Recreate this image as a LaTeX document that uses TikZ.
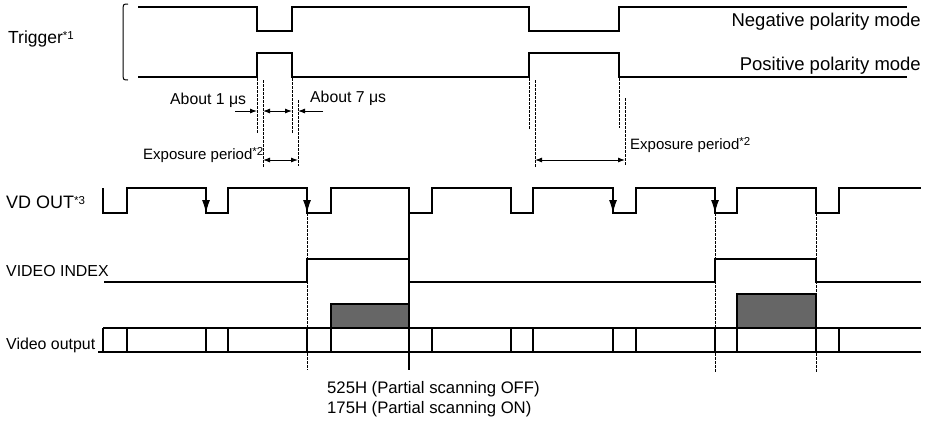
\documentclass[tikz,border=0pt]{standalone}
\usepackage{fontspec}
\setmainfont{Liberation Sans}
\usetikzlibrary{arrows.meta}
\definecolor{boxgray}{HTML}{666666}
\newcommand\supnote[1]{\raisebox{4pt}{\fontsize{11.5pt}{11.5pt}\selectfont #1}}
\begin{document}
\begin{tikzpicture}[x=1pt,y=-1pt,
  sig/.style={line width=2.4pt, line join=miter},
  divider/.style={line width=1.5pt},
  guide/.style={line width=0.8pt, dash pattern=on 2.5pt off 1.5pt},
  dim/.style={line width=0.9pt, -{Latex[length=7pt,width=5pt]}},
  dimboth/.style={line width=0.9pt, {Latex[length=7pt,width=5pt]}-{Latex[length=7pt,width=5pt]}},
  edgearrow/.style={line width=1pt, -{Latex[length=13pt,width=8pt]}},
  lbl/.style={inner sep=0pt, font=\fontsize{#1pt}{#1pt}\selectfont},
]
\useasboundingbox (0,0) rectangle (928,421);

% Trigger bracket
\draw[line width=1pt] (128,4) .. controls (123,4) .. (123,12) -- (123,72) .. controls (123,80) .. (128,80);

% Trigger waveforms
\draw[sig] (138,7) -- (257,7) -- (257,31) -- (292,31) -- (292,7) -- (529,7) -- (529,31) -- (619,31) -- (619,7) -- (907,7);
\draw[sig] (138,77) -- (257,77) -- (257,53) -- (292,53) -- (292,77) -- (529,77) -- (529,53) -- (619,53) -- (619,77) -- (907,77);

\node[lbl=17.5, anchor=base west] (trig) at (8,43) {Trigger\supnote{*1}};
\node[lbl=18.5, anchor=base east] (neg) at (921,26) {Negative polarity mode};
\node[lbl=18.5, anchor=base east] (pos) at (921,70) {Positive polarity mode};

% guides
\coordinate (g1a) at (257,78);  \coordinate (g1b) at (257,133);
\coordinate (g2a) at (263,80);  \coordinate (g2b) at (263,168);
\coordinate (g3a) at (292,78);  \coordinate (g3b) at (292,133);
\coordinate (g4a) at (298,100); \coordinate (g4b) at (298,166);
\coordinate (g5a) at (529,78);  \coordinate (g5b) at (529,130);
\coordinate (g6a) at (535,80);  \coordinate (g6b) at (535,168);
\coordinate (g7a) at (619,78);  \coordinate (g7b) at (619,128);
\coordinate (g8a) at (625,98);  \coordinate (g8b) at (625,166);
\foreach \g in {1,...,8} \draw[guide] (g\g a) -- (g\g b);

% timing arrows
\coordinate (a1s) at (235,111); \coordinate (a1e) at (257,111);
\coordinate (a2s) at (263,111); \coordinate (a2e) at (292,111);
\coordinate (a3s) at (323,111); \coordinate (a3e) at (298,111);
\draw[dim] (a1s) -- (a1e);
\draw[dimboth] (a2s) -- (a2e);
\draw[dim] (a3s) -- (a3e);
\node[lbl=15.8, anchor=base west] (ab1) at (170,104) {About 1 μs};
\node[lbl=15.8, anchor=base west] (ab7) at (310,102) {About 7 μs};

\coordinate (e1s) at (263,160); \coordinate (e1e) at (298,160);
\coordinate (e2s) at (535,160); \coordinate (e2e) at (625,160);
\draw[dimboth] (e1s) -- (e1e);
\draw[dimboth] (e2s) -- (e2e);
\node[lbl=15, anchor=base west] (exp1) at (143,159) {Exposure period\supnote{*2}};
\node[lbl=15, anchor=base west] (exp2) at (630,149) {Exposure period\supnote{*2}};

% VD OUT
\draw[sig] (103,188) -- (103,213) -- (127,213) -- (127,188) -- (206,188) -- (206,213) -- (228,213) -- (228,188)
  -- (307,188) -- (307,213) -- (331,213) -- (331,188) -- (409,188) -- (409,213) -- (432,213) -- (432,188)
  -- (511,188) -- (511,213) -- (533,213) -- (533,188) -- (613,188) -- (613,213) -- (636,213) -- (636,188)
  -- (715,188) -- (715,213) -- (737,213) -- (737,188) -- (816,188) -- (816,213) -- (839,213) -- (839,188) -- (921,188);
\foreach \x in {206,307,613,715} \draw[edgearrow] (\x,192) -- (\x,213);
\node[lbl=18, anchor=base west] (vd) at (6,208) {VD OUT\supnote{*3}};

% VIDEO INDEX
\draw[sig] (104,282) -- (307,282) -- (307,259) -- (409,259) -- (409,282) -- (715,282) -- (715,259) -- (816,259) -- (816,282) -- (921,282);
\node[lbl=15.9, anchor=base west] (vi) at (6,276) {VIDEO INDEX};

% vertical markers
\draw[guide] (307,213) -- (307,370);
\draw[line width=1.5pt] (409,213) -- (409,370);
\draw[guide] (715,213) -- (715,372);
\draw[guide] (816,213) -- (816,372);

% Video output
\filldraw[fill=boxgray, draw=black, line width=1.2pt] (331,304) rectangle (409,328);
\filldraw[fill=boxgray, draw=black, line width=1.2pt] (737,294) rectangle (816,328);
\foreach \x in {127,206,228,307,331,409,432,511,533,613,636,715,737,816,839}
  \draw[divider] (\x,328) -- (\x,352);
\draw[sig] (103,328) -- (921,328);
\draw[sig] (98,352) -- (921,352);
\draw[sig] (103,328) -- (103,352);
\node[lbl=15.9, anchor=base west] (vo) at (6,349) {Video output};

\node[lbl=16.7, anchor=base west] (h525) at (327,393) {525H (Partial scanning OFF)};
\node[lbl=16.7, anchor=base west] (h175) at (327,413) {175H (Partial scanning ON)};
\end{tikzpicture}
\end{document}
